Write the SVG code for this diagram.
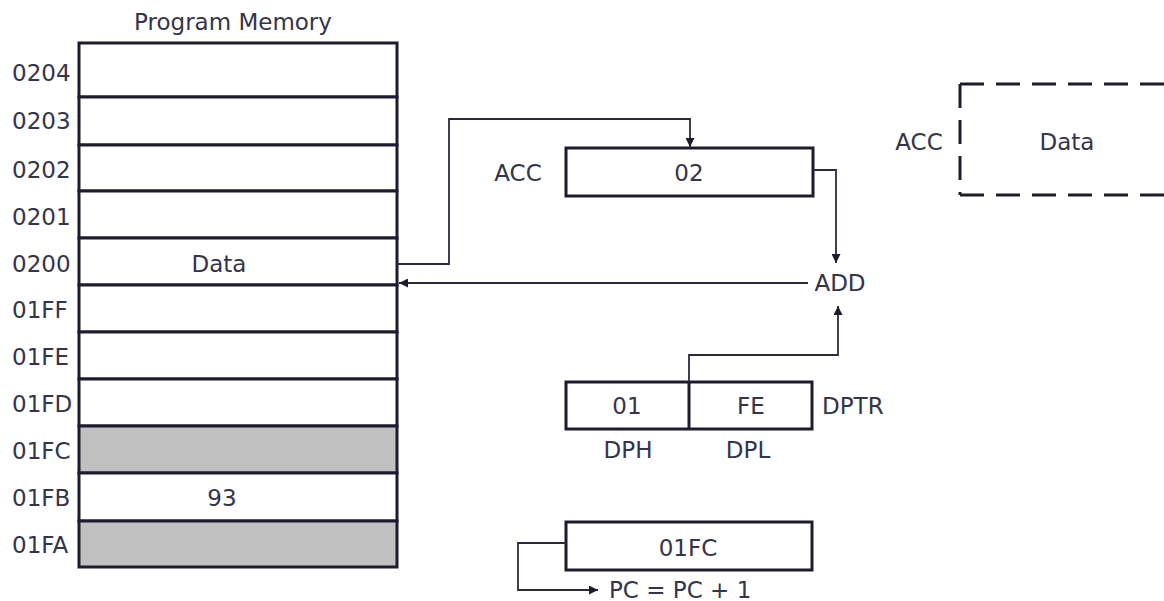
<svg xmlns="http://www.w3.org/2000/svg" width="1164" height="601" viewBox="0 0 1164 601">
  <style>
    text { font-family: "DejaVu Sans", "Liberation Sans", sans-serif; font-size: 23px; fill: #34344a; }
    .mid { text-anchor: middle; }
    .cell { fill: #ffffff; stroke: #1c1c2e; stroke-width: 3; }
    .shade { fill: #c0c0c0; stroke: #1c1c2e; stroke-width: 3; }
    .box { fill: #ffffff; stroke: #1c1c2e; stroke-width: 3; }
    .conn { fill: none; stroke: #2a2a3a; stroke-width: 1.8; }
    .dash { fill: none; stroke: #1c1c2e; stroke-width: 3; stroke-dasharray: 24 12; }
  </style>
  <defs>
    <marker id="arrow" viewBox="0 0 10 10" refX="10" refY="5" markerWidth="10" markerHeight="9" markerUnits="userSpaceOnUse" orient="auto">
      <path d="M0,0 L10,5 L0,10 z" fill="#1c1c2e"/>
    </marker>
  </defs>
  <rect width="1164" height="601" fill="#ffffff"/>

  <g id="program-memory">
    <text x="233" y="30" class="mid">Program Memory</text>
    <rect class="cell" x="79" y="43" width="318" height="54"/>
    <rect class="cell" x="79" y="97" width="318" height="48"/>
    <rect class="cell" x="79" y="145" width="318" height="46"/>
    <rect class="cell" x="79" y="191" width="318" height="47"/>
    <rect class="cell" x="79" y="238" width="318" height="47"/>
    <rect class="cell" x="79" y="285" width="318" height="47"/>
    <rect class="cell" x="79" y="332" width="318" height="47"/>
    <rect class="cell" x="79" y="379" width="318" height="47"/>
    <rect class="shade" x="79" y="426" width="318" height="47"/>
    <rect class="cell" x="79" y="473" width="318" height="48"/>
    <rect class="shade" x="79" y="521" width="318" height="46"/>
    <text x="12" y="81">0204</text>
    <text x="12" y="129">0203</text>
    <text x="12" y="178">0202</text>
    <text x="12" y="225">0201</text>
    <text x="12" y="272">0200</text>
    <text x="12" y="318">01FF</text>
    <text x="12" y="365">01FE</text>
    <text x="12" y="412">01FD</text>
    <text x="12" y="459">01FC</text>
    <text x="12" y="506">01FB</text>
    <text x="12" y="553">01FA</text>
    <text x="219" y="272" class="mid">Data</text>
    <text x="222" y="506" class="mid">93</text>
  </g>

  <g id="acc">
    <text x="518" y="181" class="mid">ACC</text>
    <rect class="box" x="566" y="148" width="247" height="48"/>
    <text x="689" y="181" class="mid">02</text>
  </g>

  <g id="add">
    <text x="840" y="291" class="mid">ADD</text>
  </g>

  <g id="dptr">
    <rect class="box" x="566" y="382" width="246" height="47"/>
    <line x1="689" y1="382" x2="689" y2="429" stroke="#1c1c2e" stroke-width="3"/>
    <text x="627" y="414" class="mid">01</text>
    <text x="751" y="414" class="mid">FE</text>
    <text x="822" y="414">DPTR</text>
    <text x="628" y="458" class="mid">DPH</text>
    <text x="748" y="458" class="mid">DPL</text>
  </g>

  <g id="pc">
    <rect class="box" x="566" y="522" width="246" height="48"/>
    <text x="688" y="556" class="mid">01FC</text>
    <text x="609" y="598">PC = PC + 1</text>
  </g>

  <g id="acc-result">
    <text x="919" y="150" class="mid">ACC</text>
    <path class="dash" d="M960,84 H1170"/>
    <path class="dash" d="M960,84 V195"/>
    <path class="dash" d="M960,195 H1170"/>
    <text x="1067" y="150" class="mid">Data</text>
  </g>

  <g id="connectors">
    <path class="conn" d="M397,264 H449 V119 H690 V147" marker-end="url(#arrow)"/>
    <path class="conn" d="M813,170 H836 V263" marker-end="url(#arrow)"/>
    <path class="conn" d="M808,283 H399" marker-end="url(#arrow)"/>
    <path class="conn" d="M689,382 V355 H838 V306" marker-end="url(#arrow)"/>
    <path class="conn" d="M566,543 H518 V590 H598" marker-end="url(#arrow)"/>
  </g>
</svg>
